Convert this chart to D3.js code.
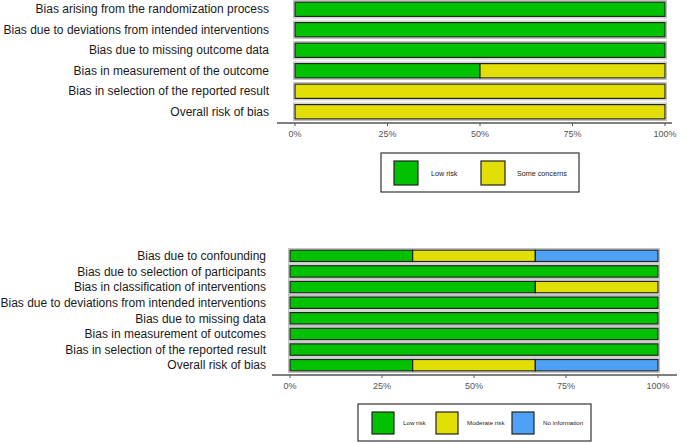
<!DOCTYPE html>
<html><head><meta charset="utf-8">
<script src="https://cdn.jsdelivr.net/npm/d3@7"></script>
<style>body{margin:0;background:#fff}svg{display:block}text{font-family:"Liberation Sans",Arial,sans-serif}</style>
</head><body>
<svg id="c" width="685" height="443"></svg>
<script>
// Top panel (RoB 2)
const topDomains = ["Bias arising from the randomization process","Bias due to deviations from intended interventions","Bias due to missing outcome data","Bias in measurement of the outcome","Bias in selection of the reported result","Overall risk of bias"];
const topLow = [100,100,100,50,0,0];
const topSome = [0,0,0,50,100,100];
const topLevels = ["Low risk","Some concerns"];
// Bottom panel (ROBINS-I)
const botDomains = ["Bias due to confounding","Bias due to selection of participants","Bias in classification of interventions","Bias due to deviations from intended interventions","Bias due to missing data","Bias in measurement of outcomes","Bias in selection of the reported result","Overall risk of bias"];
const botLow = [33.33,100,66.67,100,100,100,100,33.33];
const botModerate = [33.33,0,33.33,0,0,0,0,33.33];
const botNoInfo = [33.34,0,0,0,0,0,0,33.34];
const botLevels = ["Low risk","Moderate risk","No information"];
const tickVals = [0,25,50,75,100];
const colors = {"Low risk":"#02C100","Some concerns":"#E2DF07","Moderate risk":"#E2DF07","No information":"#4EA1F7"};

const svg = d3.select("#c");

function panel(cfg){
  const g = svg.append("g");
  const x = d3.scaleLinear().domain([0,100]).range([cfg.x0,cfg.x1]);
  const y = d3.scaleBand().domain(cfg.domains).range([cfg.y0,cfg.y1]).paddingInner(cfg.pad).paddingOuter(cfg.pad/2);
  const rows = cfg.domains.map((d,i)=>{
    let acc=0; const segs=[];
    cfg.series.forEach((s,k)=>{ const v=s[i]; if(v>0){segs.push({d, level:cfg.levels[k], a:acc, b:acc+v}); } acc+=v; });
    return segs;
  }).flat();
  g.selectAll("rect.halo").data(cfg.domains).join("rect")
    .attr("x",x(0)-1.5).attr("width",x(100)-x(0)+3)
    .attr("y",d=>y(d)-1.5).attr("height",y.bandwidth()+3)
    .attr("fill","none").attr("stroke","#bdbdbd").attr("stroke-width",1);
  g.selectAll("rect.seg").data(rows).join("rect")
    .attr("x",d=>x(d.a)).attr("width",d=>x(d.b)-x(d.a))
    .attr("y",d=>y(d.d)).attr("height",y.bandwidth())
    .attr("fill",d=>colors[d.level]).attr("stroke","#222").attr("stroke-width",1.2);
  g.selectAll("text.lab").data(cfg.domains).join("text")
    .attr("x",cfg.labelX).attr("y",d=>y(d)+y.bandwidth()/2).attr("dy","0.35em")
    .attr("text-anchor","end").attr("font-size",cfg.fs).attr("fill","#1a1a1a").text(d=>d);
  const ag = g.append("g");
  ag.append("line").attr("x1",cfg.axX0).attr("x2",cfg.axX1).attr("y1",cfg.axY).attr("y2",cfg.axY).attr("stroke","#555").attr("stroke-width",1.3);
  ag.selectAll("line.t").data(tickVals).join("line").attr("x1",d=>x(d)).attr("x2",d=>x(d)).attr("y1",cfg.axY).attr("y2",cfg.axY+3).attr("stroke","#555");
  ag.selectAll("text.t").data(tickVals).join("text").attr("x",d=>x(d)).attr("y",cfg.axY+11).attr("dy","0.35em")
    .attr("text-anchor","middle").attr("font-size",9).attr("fill","#555").text(d=>d+"%");
  const lg = g.append("g");
  lg.append("rect").attr("x",cfg.lg.x).attr("y",cfg.lg.y).attr("width",cfg.lg.w).attr("height",cfg.lg.h).attr("fill","#fff").attr("stroke","#333").attr("stroke-width",1.2);
  cfg.levels.forEach((lv,k)=>{
    lg.append("rect").attr("x",cfg.lg.sx[k]).attr("y",cfg.lg.sy).attr("width",cfg.lg.ss).attr("height",cfg.lg.ss)
      .attr("fill",colors[lv]).attr("stroke","#222").attr("stroke-width",1.2);
    lg.append("text").attr("x",cfg.lg.tx[k]).attr("y",cfg.lg.sy+cfg.lg.ss/2).attr("dy","0.35em").attr("font-size",cfg.lg.fs).attr("fill","#222").text(lv);
  });
}

panel({domains:topDomains, series:[topLow,topSome], levels:topLevels,
  x0:295, x1:665, y0:-1, y1:122, pad:0.3, labelX:269, fs:12,
  axX0:277, axX1:672, axY:123,
  lg:{x:381,y:153,w:198,h:39,sx:[394,481],sy:161,ss:24,tx:[431,517],fs:7.2}});

panel({domains:botDomains, series:[botLow,botModerate,botNoInfo], levels:botLevels,
  x0:290, x1:658, y0:248, y1:373, pad:0.27, labelX:266, fs:12,
  axX0:272, axX1:677, axY:375,
  lg:{x:358,y:404,w:233,h:37,sx:[372,436,512],sy:412,ss:22,tx:[403,467,543],fs:6.2}});
</script>
</body></html>
